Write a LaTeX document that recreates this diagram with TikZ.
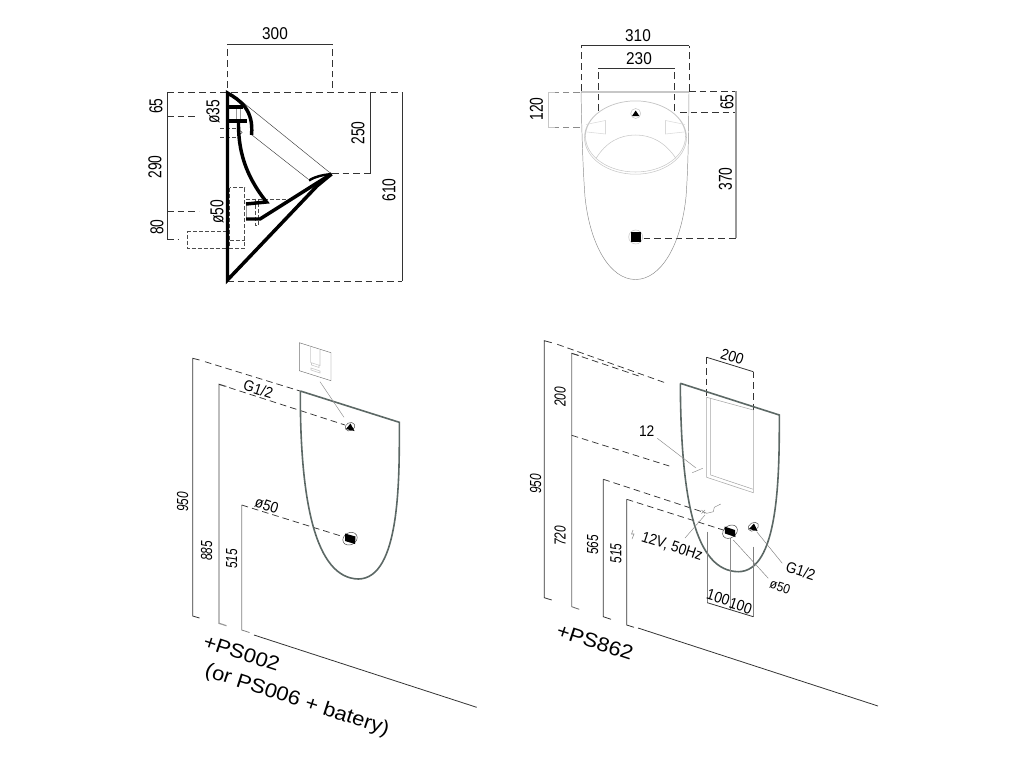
\documentclass[tikz,border=0pt]{standalone}
\usepackage{fontspec}
\setmainfont{Liberation Sans}
\newfontfamily\widefont[FakeStretch=1.1]{Liberation Sans}
\newfontfamily\flatfont[FakeStretch=0.9]{Liberation Sans}
\newfontfamily\tallfont[FakeStretch=0.74]{Liberation Sans}
\definecolor{leafgray}{HTML}{5C6865}
\tikzset{
  dim/.style={draw=black!80,line width=0.6pt},
  dimg/.style={draw=black!40,line width=0.9pt},
  dashline/.style={draw=black!80,line width=0.55pt,dash pattern=on 5pt off 3pt},
  dotbox/.style={draw=black!70,line width=0.35pt,dash pattern=on 3pt off 1.5pt},
  fine/.style={draw=black!75,line width=0.35pt},
  pale/.style={draw=black!22,line width=0.4pt},
  heavy/.style={draw=black,line width=2.6pt,line join=miter},
  leaf/.style={draw=leafgray,line width=1.2pt},
  txt/.style={font=\flatfont\fontsize{12.8}{14}\selectfont,inner sep=0pt},
  upr/.style={rotate=90,inner sep=0pt,font=\tallfont\fontsize{14}{16}\selectfont},
  iso/.style={rotate=-18,inner sep=0pt,font=\flatfont\fontsize{11.5}{13}\selectfont},
  ital/.style={inner sep=0pt,rotate=90,font=\tallfont\fontsize{12}{14}\selectfont\itshape},
  big/.style={inner sep=0pt,rotate=-18,font=\widefont\fontsize{15}{17}\selectfont}
}
\begin{document}
\begin{tikzpicture}[x=0.75pt,y=-0.75pt]
  \useasboundingbox (0,0) rectangle (1024,768);
  % side view
  \draw[dim] (227,44) -- (332,44);
  \draw[dashline] (227,88) -- (227,44) (332,88) -- (332,44);
  \draw[dashline] (167,92) -- (402,92) (332,173.5) -- (370,173.5) (227,281) -- (402,281);
  \draw[dashline] (167,116) -- (195,116) (167,211) -- (199,211) (167,239) -- (178,239);
  \draw[dim] (167,92) -- (167,239) (370,92) -- (370,173.5) (402,92) -- (402,281);
  \draw[dotbox] (229.5,187.5) rectangle (244.5,248) (229.5,240) -- (244.5,240);
  \draw[dotbox] (226.5,231.5) -- (187.5,231.5) -- (187.5,248.5) -- (226.5,248.5);
  \draw[dotbox] (220,128.5) -- (237,128.5) (220,137.5) -- (237,137.5);
  \draw[dotbox] (246,199.5) -- (287,199.5) (255,198.5) -- (255,225) -- (258.5,225) -- (258.5,198.5);
  \draw[fine] (240,100) -- (331.5,174) (252,135) -- (308,179);
  \draw[pale,line width=0.7pt,draw=black!40] (236.5,108) -- (236.5,120) (240,108) -- (240,120) (246,204) -- (246,219);
  \draw[fine] (240.7,132.3) circle (1.5);
  \draw[heavy] (331.5,174) -- (317,186) -- (227.5,280) -- (227.5,93) .. controls (240,100) and (254,110) .. (251.5,135);
  \draw[heavy] (227.5,107) -- (243,107) (227.5,121) -- (247,121);
  \draw[heavy] (238.5,121) .. controls (238,150) and (245,175) .. (266.5,202) -- (246,204);
  \draw[heavy] (246,219) -- (260,219) -- (317,183) -- (331.5,174);
  \draw[heavy,line width=1.8pt] (309,180.5) .. controls (316,176) and (323,175) .. (331.5,174);
  \node[txt] (side300) at (275,34) {300};
  \node[upr] (side65) at (156,106) {65};
  \node[upr] (side290) at (155,167) {290};
  \node[upr] (side80) at (157,227) {80};
  \node[upr] (side35) at (213,112) {ø35};
  \node[upr] (side50) at (217,212) {ø50};
  \node[upr] (side250) at (358,133) {250};
  \node[upr] (side610) at (389,190) {610};
  % front view
  \draw[dim] (581,45.5) -- (689,45.5) (598.5,68) -- (674.5,68);
  \draw[dashline] (581,91) -- (581,45.5) (689,91) -- (689,45.5) (598.5,111) -- (598.5,68) (674.5,111) -- (674.5,68);
  \draw[dashline] (689,91) -- (736,91) (680,112.5) -- (736,112.5) (643.5,238) -- (736,238);
  \draw[dimg] (736,91) -- (736,238);
  \draw[pale,line width=0.8pt] (581,92) -- (689,92);
  \draw[pale,line width=0.6pt] (555,92) -- (548.5,92) -- (548.5,127.5) -- (555,127.5);
  \draw[dashline,draw=black!45] (580,92) -- (555,92) (580,127.5) -- (555,127.5);
  \draw[fine,draw=black!45] (581,92) .. controls (582,140) and (583,170) .. (585,197) .. controls (590,245) and (610,279.5) .. (635.5,279.5) .. controls (661,279.5) and (681,245) .. (686,197) .. controls (688,170) and (688.5,140) .. (689,92);
  \draw[pale] (635.5,137.5) ellipse (51 and 36.7) (635.5,136.5) ellipse (50 and 35.5);
  \draw[pale] (596,158.5) .. controls (606,142) and (620,135) .. (635.5,135) .. controls (651,135) and (665,142) .. (676,158.5);
  \draw[pale,draw=black!15] (586,124.5) -- (605.5,120.5) -- (605.5,134) -- (587,132) (685,124.5) -- (665.5,120.5) -- (665.5,134) -- (684,132);
  \draw[pale,fill=white] (635.7,113.5) circle (5);
  \fill (632,116) -- (635.7,110.5) -- (639.4,116) -- cycle;
  \draw[pale,fill=white] (635.7,237) circle (7);
  \fill (630.7,232) rectangle (640.7,242);
  \node[txt] (front310) at (638,36) {310};
  \node[txt] (front230) at (639,58.5) {230};
  \node[upr] (front120) at (536.5,109) {120};
  \node[upr] (front65) at (727,102) {65};
  \node[upr] (front370) at (725.5,179) {370};
  % left wall
  \draw[dim] (199.5,360) -- (192.7,358.3) -- (192.7,616) -- (199.5,618);
  \draw[dimg] (226.5,386.5) -- (219,384.3) -- (219,623.3) -- (226.5,625.7);
  \draw[dim,draw=black!50] (241.7,505) -- (241.7,630) -- (249.5,632.5);
  \draw[dashline] (205,361.7) -- (300,391) (219,384.3) -- (345,425) (241.7,505) -- (340,535.7);
  \draw[dim] (254,635) -- (476.7,707.3);
  \draw[leaf] (300.3,391) -- (399.3,422.3) .. controls (399.5,480) and (400,578.5) .. (358.3,579) .. controls (315,578) and (300,500) .. (300.3,391);
  \draw[fine,draw=black!55] (299.3,342.7) -- (331,352.7) -- (331,380.7) -- (299.3,370.7) -- cycle;
  \draw[pale] (310.7,347) -- (310.7,362.5) -- (320,365.5) -- (320,350) (311.5,362.5) -- (311.5,365) -- (319,367.5) -- (319,365) (311,368) -- (320,371) -- (320,373) -- (311,370) -- cycle;
  \draw[fine,draw=black!45] (320,381.7) -- (344,417.3);
  \draw[fine,rotate around={28:(350,426.7)}] (350,426.7) ellipse (5 and 4);
  \fill (346,429) -- (350.5,423.5) -- (354.5,431) -- cycle;
  \draw[fine,rotate around={28:(350,538.7)}] (350,538.7) ellipse (7.5 and 6);
  \fill (345,533.5) -- (355.5,536.5) -- (355,544) -- (345,541) -- cycle;
  \node[iso] (leftG) at (258.3,389.3) {G1/2};
  \node[iso] (left50) at (266.7,505.7) {ø50};
  \node[ital] (left950) at (182.7,501.7) {950};
  \node[ital] (left885) at (206.7,550.7) {885};
  \node[ital] (left515) at (231.7,559) {515};
  \node[big] (leftPS) at (241.7,653) {+PS002};
  \node[big] (leftOr) at (297,700.7) {(or PS006 + batery)};
  % right wall
  \draw[dim] (551.7,342.7) -- (544.3,340.7) -- (544.3,597.7) -- (551.7,600);
  \draw[dim,draw=black!60] (579,355.5) -- (571.7,353.3) -- (571.7,606.7) -- (579.3,609.3);
  \draw[dim] (603.3,479.3) -- (603.3,616.7) -- (611,619.3);
  \draw[dim] (626.7,499.3) -- (626.7,625) -- (634,627.3);
  \draw[dashline] (557.3,344.3) -- (666.7,383.3) (571.7,353.3) -- (641.7,377) (571.7,435.3) -- (669.3,466);
  \draw[dashline] (603.3,479.3) -- (705,512.7) (626.7,499.3) -- (723.3,530);
  \draw[dim] (638,628) -- (878,706);
  \draw[dim] (706.7,357.3) -- (753.3,371.7);
  \draw[dashline] (706.7,357.3) -- (706.7,397) (753.3,371.7) -- (753.3,410);
  \draw[leaf] (680.3,383.3) -- (779.3,415) .. controls (779.5,480) and (778,571.5) .. (738.3,571.7) .. controls (695,571) and (681,500) .. (680.3,383.3);
  \draw[pale,draw=black!35] (706.7,397.3) -- (753.3,410) -- (753.3,492.7) -- (706.7,477.3) -- cycle (710.7,398.5) -- (710.7,475) -- (753.3,489.3);
  \draw[fine,draw=black!45] (657.3,438.3) -- (696,468) (692.3,472.7) -- (702.7,468.3);
  \draw[fine,draw=black!45] (685,538) -- (705,515);
  \draw[fine,draw=black!45] (701.5,510) -- (705,513.5) (701.5,513.5) -- (705,510) (703.3,511.7) -- (706.7,513.3) -- (713.3,511.7) -- (714.3,507.3) -- (720.7,504);
  \draw[pale,draw=black!45] (633,530) -- (631.5,534) -- (634,534) -- (632,539);
  \draw[fine,draw=black!50] (707.3,531.7) -- (707.3,602.7) (753.3,546.7) -- (753.3,616.7);
  \draw[dim,draw=black!45] (730,538) -- (730,609.5);
  \draw[dim] (707.3,602.7) -- (753.3,616.7);
  \draw[fine,draw=black!50] (733.3,540) -- (768.3,578.3) (756.7,531.7) -- (782.3,563.3);
  \draw[fine,rotate around={35:(730,531.7)}] (730,531.7) ellipse (8 and 6);
  \fill (724.5,526.5) -- (735,530) -- (735.5,537) -- (725,533.5) -- cycle;
  \draw[fine,rotate around={30:(753.3,526.7)}] (753.3,526.7) ellipse (5.5 and 4);
  \fill (749,529) -- (754,523.5) -- (757.5,531) -- cycle;
  \node[iso] (right200) at (732.3,356.7) {200};
  \node[iso,rotate=18] (right12) at (646.7,430.7) {12};
  \node[iso] (rightV) at (672,546.7) {12V, 50Hz};
  \node[iso] (right100a) at (718.3,597.3) {100};
  \node[iso] (right100b) at (740.7,606) {100};
  \node[iso,font=\flatfont\fontsize{10}{12}\selectfont] (right50) at (780,586.7) {ø50};
  \node[iso] (rightG) at (800.7,571) {G1/2};
  \node[ital] (right950) at (535.7,484) {950};
  \node[ital] (right200v) at (560,396.7) {200};
  \node[ital] (right720) at (560,535.7) {720};
  \node[ital] (right565) at (592.7,545) {565};
  \node[ital] (right515) at (616,553.3) {515};
  \node[big] (rightPS) at (595,642) {+PS862};
\end{tikzpicture}
\end{document}
